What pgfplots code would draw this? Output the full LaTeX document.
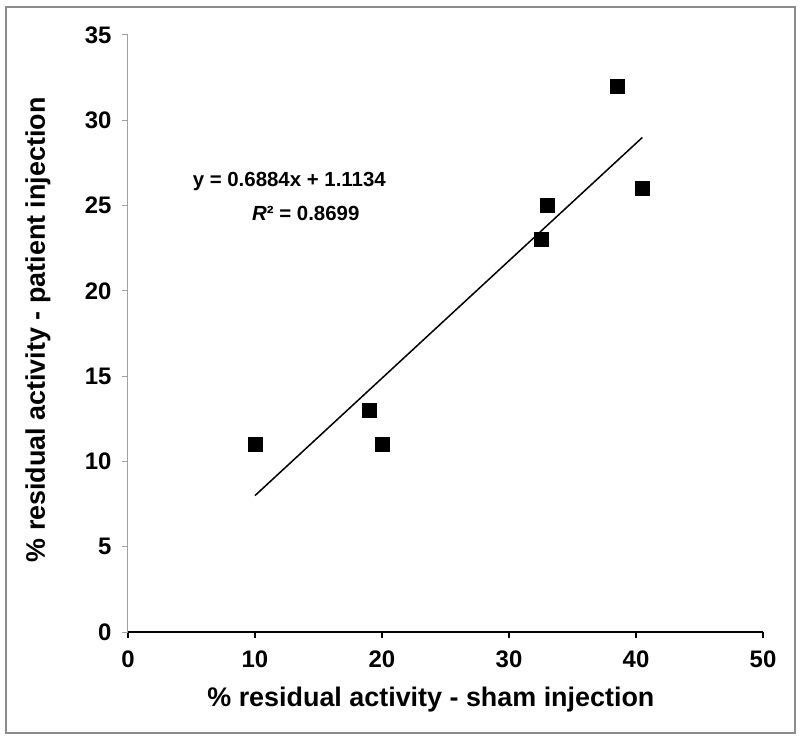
\documentclass[border=0pt]{standalone}
\usepackage{pgfplots}
\pgfplotsset{compat=1.18}
\usepackage{fontspec}
\setmainfont{Liberation Sans}
\definecolor{framegray}{HTML}{8C8C8C}
\definecolor{axgray}{HTML}{A0A0A0}
\begin{document}
\begin{tikzpicture}[x=1bp,y=1bp]
\useasboundingbox (-128,-110) rectangle (672,632);
\draw[framegray,line width=1.6bp] (-122,-101) rectangle (667,625);
\begin{axis}[
  at={(0,0)}, anchor=origin,
  scale only axis, width=635bp, height=597bp,
  xmin=0, xmax=50, ymin=0, ymax=35,
  axis x line*=bottom, axis y line*=left,
  x axis line style={black,line width=1.3bp,-},
  y axis line style={axgray,line width=1bp,-},
  xtick={0,10,...,50}, ytick={0,5,...,35},
  tick align=outside, major tick length=6bp,
  xtick style={black,line width=1.3bp},
  ytick style={axgray,line width=1bp},
  tick label style={font=\fontsize{24}{26}\selectfont\bfseries},
  /pgf/number format/assume math mode=true,
  xticklabel style={yshift=-9bp},
  yticklabel style={xshift=-7bp},
  xlabel={\% residual activity - sham injection},
  ylabel={\% residual activity - patient injection},
  label style={font=\fontsize{27}{29}\selectfont\bfseries},
  xlabel style={at={(axis description cs:0.477,-0.1139)},anchor=center},
  ylabel style={at={(axis description cs:-0.1417,0.506)},anchor=center},
  clip=false,
]
\addplot[only marks, mark=square*, mark size=7bp, black] coordinates {
 (10,11) (19,13) (20,11) (32.5,23) (33,25) (38.5,32) (40.5,26)
};
\addplot[black, line width=1.5bp] coordinates {(10,7.9974) (40.5,28.9936)};
\node[font=\fontsize{20.5}{23}\selectfont\bfseries] at (axis cs:12.7,26.44) {y = 0.6884x + 1.1134};
\node[font=\fontsize{20.5}{23}\selectfont\bfseries] at (axis cs:14.0,24.56) {\textit{R}² = 0.8699};
\end{axis}
\end{tikzpicture}
\end{document}
